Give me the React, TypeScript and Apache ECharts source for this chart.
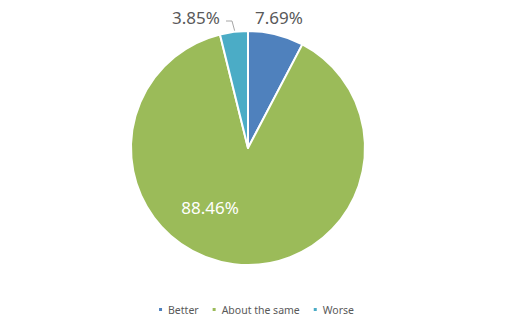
import React, { useEffect, useRef } from "react";
import * as echarts from "echarts";

const categories = ["Better", "About the same", "Worse"];
const values = [7.69, 88.46, 3.85];
const colors = ["#4F81BD", "#9BBB59", "#4BACC6"];

export default function App() {
  const ref = useRef<HTMLDivElement>(null);
  useEffect(() => {
    if (!ref.current) return;
    const chart = echarts.init(ref.current, undefined, { renderer: "svg" });
    const labelPos = [
      { x: 279, y: 17, color: "#595959" },
      { x: 210, y: 207, color: "#FFFFFF" },
      { x: 196, y: 17, color: "#595959" },
    ];
    chart.setOption({
      animation: false,
      backgroundColor: "#FFFFFF",
      legend: {
        bottom: 8,
        left: "center",
        itemWidth: 5,
        itemHeight: 5,
        itemGap: 12,
        icon: "rect",
        textStyle: { color: "#595959", fontSize: 10.5, fontFamily: "Noto Sans" },
        data: categories,
      },
      series: [
        {
          type: "pie",
          center: [248, 148],
          radius: [0, 117],
          startAngle: 90,
          clockwise: true,
          itemStyle: { borderColor: "#FFFFFF", borderWidth: 2 },
          label: {
            show: true,
            formatter: (p: any) => p.value.toFixed(2) + "%",
            fontSize: 17,
            fontFamily: "Noto Sans",
            color: "#595959",
          },
          labelLine: { show: false },
          labelLayout: (p: any) => {
            const l = labelPos[p.dataIndex];
            const r: any = { x: l.x, y: l.y, align: "center", verticalAlign: "middle" };
            if (p.dataIndex === 2) {
              r.labelLinePoints = [[235, 32], [232, 21], [226, 21]];
            }
            return r;
          },
          data: categories.map((c, i) => ({
            name: c,
            value: values[i],
            itemStyle: { color: colors[i] },
            label: { color: labelPos[i].color },
            labelLine: i === 2 ? { show: true, length: 6, length2: 6, lineStyle: { color: "#A6A6A6", width: 1 } } : { show: false },
          })),
        },
      ],
    });
    return () => chart.dispose();
  }, []);
  return (
    <div
      ref={ref}
      style={{ position: "absolute", left: 0, top: 0, width: 511, height: 328 }}
    />
  );
}
